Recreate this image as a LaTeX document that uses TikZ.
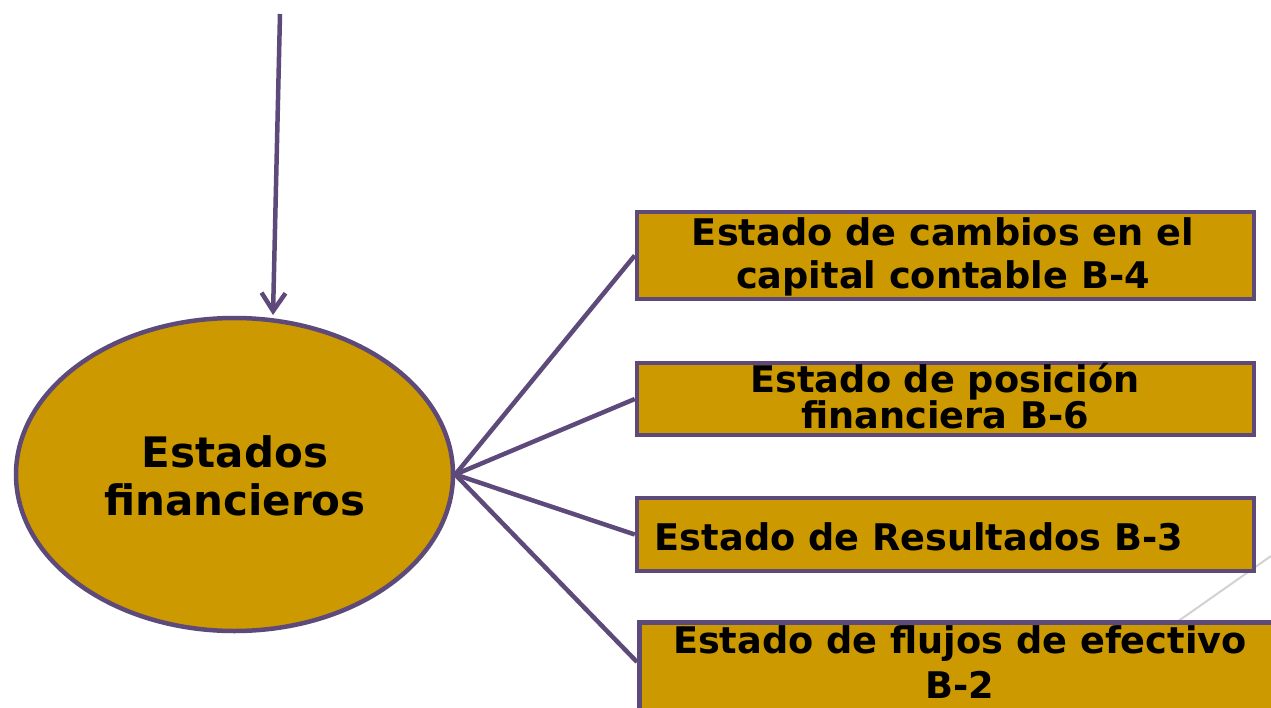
\documentclass[tikz,border=0pt]{standalone}
\usepackage{fontspec}
\setmainfont{DejaVu Sans}
\usetikzlibrary{arrows.meta,shapes.geometric}
\definecolor{vio}{HTML}{5E4A7A}
\definecolor{gold}{HTML}{CC9900}
\tikzset{
  box/.style={draw=vio,line width=4.5pt,fill=gold,rectangle,inner sep=0pt},
  lbl/.style={font=\bfseries\fontsize{36.7}{43}\selectfont,align=center,inner sep=0pt,text=black},
  conn/.style={draw=vio,line width=4.5pt},
}
\begin{document}
\begin{tikzpicture}[x=1pt,y=-1pt]
\clip (0,0) rectangle (1271,707);
\fill[white] (0,0) rectangle (1271,707);
% grey background line
\coordinate (g1) at (1271,556);
\coordinate (g2) at (1100,676);
\draw[gray!35,line width=2pt] (g1) -- (g2);
% ellipse
\node[ellipse,draw=vio,line width=4.5pt,fill=gold,minimum width=437pt,minimum height=313pt,inner sep=0pt] (ell) at (234.5,474.5) {};
\node[lbl,font=\bfseries\fontsize{42}{48}\selectfont] (elltxt) at (235,476) {Estados\\financieros};
% boxes
\node[box,minimum width=617pt,minimum height=87pt] (b1) at (945.5,255.5) {};
\node[box,minimum width=617pt,minimum height=72pt] (b2) at (945.5,399) {};
\node[box,minimum width=617pt,minimum height=73pt] (b3) at (945.5,534.5) {};
\node[box,minimum width=653pt,minimum height=110pt,anchor=north west] (b4) at (637,620) {};
% texts
\node[lbl] (t1) at (943,257) {Estado de cambios en el\\capital contable B-4};
\node[lbl,font=\bfseries\fontsize{36.7}{36}\selectfont] (t2) at (945,396) {Estado de posición\\financiera B-6};
\node[lbl] (t3) at (919,537) {Estado de Resultados B-3};
\node[lbl,font=\bfseries\fontsize{36.7}{45}\selectfont] (t4) at (960,662) {Estado de flujos de efectivo\\B-2};
% connectors
\coordinate (top) at (280,14);
\coordinate (tip) at (273,315);
\draw[conn,-{Straight Barb[length=18pt,width=24pt,line width=4.5pt]}] (top) -- (tip);
\draw[conn] (ell.east) -- (b1.west);
\draw[conn] (ell.east) -- (b2.west);
\draw[conn] (ell.east) -- (b3.west);
\draw[conn] (ell.east) -- ([yshift=-42pt]b4.north west);
\end{tikzpicture}
\end{document}
